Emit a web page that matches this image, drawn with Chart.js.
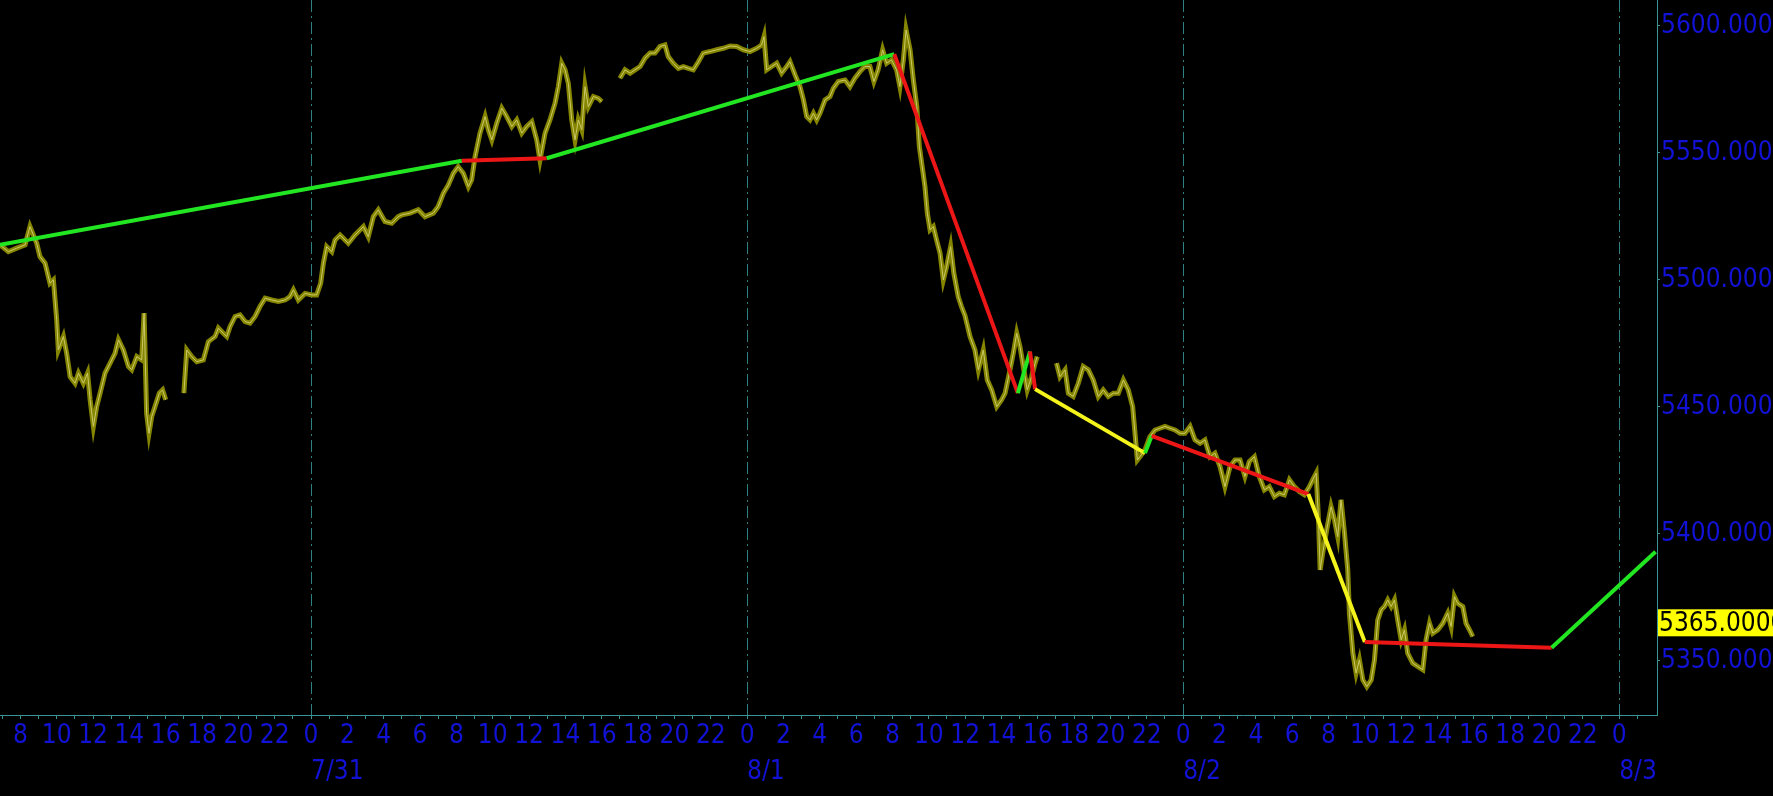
<!DOCTYPE html>
<html>
<head>
<meta charset="utf-8">
<script src="https://cdn.jsdelivr.net/npm/chart.js@4.4.1/dist/chart.umd.min.js"></script>
<style>
  html, body { margin: 0; padding: 0; background: #000; }
  canvas { display: block; }
</style>
</head>
<body>
<canvas id="myChart" width="1773" height="796"></canvas>
<script>
// hours counted from 7/30 0:00, null = session break
const priceHours = [
  6.88, 7.34, 7.80, 8.26, 8.53, 8.90, 9.08, 9.36, 9.63, 9.82, 10.00, 10.09, 10.37, 10.55, 10.74,
  11.01, 11.20, 11.47, 11.70, 11.84, 12.02, 12.20, 12.39, 12.66, 12.94, 13.21, 13.40, 13.67, 13.95,
  14.13, 14.41, 14.68, 14.81, 14.95, 15.08, 15.23, 15.41, 15.65, 15.83, 16.00, 16.50,
  17.00, 17.16, 17.43, 17.71, 18.07, 18.35, 18.72, 18.90, 19.17, 19.36, 19.54, 19.82, 20.09, 20.37,
  20.64, 20.92, 21.19, 21.47, 21.84, 22.20, 22.57, 22.84, 23.03, 23.30, 23.67, 24.04, 24.31, 24.53,
  24.68, 24.86, 25.14, 25.32, 25.60, 26.05, 26.42, 26.88, 27.15, 27.43, 27.70, 28.07, 28.44, 28.80,
  29.00, 29.45, 29.90, 30.27, 30.73, 31.00, 31.28, 31.56, 31.83, 32.10, 32.38, 32.66, 32.84, 33.03,
  33.30, 33.58, 33.76, 33.95, 34.22, 34.50, 34.77, 35.05, 35.32, 35.60, 35.87, 36.15, 36.42, 36.60,
  36.88, 37.15, 37.43, 37.61, 37.80, 37.98, 38.16, 38.35, 38.53, 38.71, 38.90, 39.08, 39.26, 39.54,
  39.81, 40.00, 40.50,
  41.00, 41.28, 41.56, 41.83, 42.11, 42.38, 42.66, 42.93, 43.21, 43.48, 43.66, 43.94, 44.22, 44.49,
  44.77, 45.04, 45.32, 45.59, 45.96, 46.33, 46.69, 47.06, 47.43, 47.79, 48.16, 48.53, 48.80, 48.93,
  49.08, 49.35, 49.63, 49.90, 50.18, 50.36, 50.64, 50.91, 51.10, 51.28, 51.46, 51.65, 51.83, 52.01,
  52.29, 52.56, 52.75, 53.02, 53.39, 53.66, 53.93, 54.21, 54.48, 54.76, 54.98, 55.21, 55.46, 55.68,
  55.95, 56.23, 56.41, 56.60, 56.75, 56.97, 57.15, 57.34, 57.48, 57.61, 57.79, 57.92, 58.07, 58.25,
  58.43, 58.62, 58.80, 58.98, 59.20, 59.38, 59.62, 59.80, 59.99, 60.27, 60.54, 60.73, 61.00, 61.22,
  61.46, 61.74, 62.01, 62.20, 62.47, 62.65, 62.84, 63.02, 63.20, 63.42, 63.66, 63.85, 63.97, 64.50,
  65.03, 65.22, 65.50, 65.68, 65.95, 66.23, 66.50, 66.78, 67.05, 67.33, 67.60, 67.88, 68.16, 68.43,
  68.71, 68.98, 69.22, 69.35, 69.48, 69.62, 69.90, 70.17, 70.45, 70.72, 71.00, 71.28, 71.55, 71.83,
  72.10, 72.38, 72.65, 72.93, 73.20, 73.48, 73.75, 74.03, 74.30, 74.58, 74.85, 75.13, 75.40, 75.64,
  75.92, 76.19, 76.47, 76.74, 77.02, 77.30, 77.57, 77.85, 78.12, 78.40, 78.67, 78.95, 79.13, 79.32,
  79.45, 79.54, 79.68, 79.90, 80.14, 80.33, 80.51, 80.69, 80.88, 81.06, 81.15, 81.34, 81.52, 81.70,
  81.89, 82.11, 82.35, 82.53, 82.71, 82.90, 83.08, 83.26, 83.45, 83.63, 83.81, 84.00, 84.18, 84.36,
  84.64, 84.91, 85.19, 85.37, 85.56, 85.74, 86.01, 86.29, 86.56, 86.75, 86.93, 87.11, 87.39, 87.57,
  87.76, 87.94
]
const priceValues = [
  5513.8, 5511.1, 5512.5, 5513.8, 5521.0, 5514.4, 5509.2, 5506.6, 5498.7, 5500.0, 5484.3, 5472.4, 5477.7, 5471.1, 5461.9,
  5459.3, 5463.3, 5459.3, 5463.3, 5452.8, 5442.3, 5450.1, 5455.4, 5463.3, 5467.2, 5471.1, 5476.4, 5472.4, 5465.9,
  5464.6, 5469.8, 5468.5, 5486.9, 5447.5, 5439.6, 5446.2, 5450.1, 5455.4, 5456.7, 5452.8, null,
  5455.4, 5472.4, 5469.8, 5467.8, 5468.5, 5475.7, 5477.7, 5481.0, 5479.0, 5477.7, 5481.6, 5485.6, 5486.2, 5483.6,
  5483.0, 5485.6, 5489.5, 5492.8, 5492.1, 5491.5, 5492.1, 5493.4, 5496.1, 5492.1, 5494.7, 5494.1, 5494.1, 5498.7,
  5506.6, 5513.1, 5511.1, 5515.7, 5517.7, 5514.4, 5517.7, 5521.0, 5517.0, 5524.9, 5527.6, 5523.0, 5522.3, 5524.9,
  5525.6, 5526.3, 5527.6, 5524.9, 5526.3, 5528.9, 5534.1, 5537.4, 5542.0, 5544.6, 5542.0, 5536.7, 5539.4, 5548.6,
  5557.8, 5564.3, 5559.1, 5555.1, 5561.7, 5567.6, 5564.3, 5560.4, 5563.0, 5557.8, 5560.4, 5562.3, 5555.1, 5547.2,
  5557.8, 5563.0, 5569.6, 5576.1, 5585.3, 5582.7, 5577.4, 5563.0, 5555.1, 5563.0, 5559.1, 5576.1, 5568.2, 5572.2,
  5571.5, 5570.2, null,
  5579.4, 5582.7, 5581.4, 5582.7, 5584.0, 5587.3, 5589.3, 5589.3, 5591.9, 5592.5, 5587.9, 5585.3, 5583.3, 5584.0,
  5583.3, 5582.7, 5585.9, 5589.3, 5589.9, 5590.6, 5591.2, 5592.1, 5591.9, 5590.6, 5589.9, 5591.2, 5592.5, 5595.8,
  5582.7, 5584.0, 5585.3, 5581.4, 5584.0, 5585.9, 5580.7, 5576.1, 5570.9, 5564.3, 5563.0, 5565.6, 5563.0, 5565.6,
  5570.9, 5572.2, 5575.5, 5578.1, 5578.7, 5576.1, 5579.4, 5582.0, 5584.0, 5584.0, 5578.1, 5582.7, 5590.6, 5585.3,
  5586.6, 5582.7, 5576.1, 5586.6, 5598.4, 5590.6, 5578.7, 5568.2, 5552.5, 5545.9, 5536.7, 5526.3, 5519.7, 5521.0,
  5515.7, 5510.5, 5500.0, 5505.2, 5513.1, 5502.6, 5493.4, 5489.5, 5486.0, 5477.7, 5472.4, 5464.6, 5472.4, 5460.6,
  5456.7, 5450.1, 5452.8, 5455.4, 5464.6, 5471.1, 5479.0, 5473.7, 5465.9, 5456.7, 5461.9, 5467.2, 5469.8, null,
  5467.2, 5461.9, 5464.6, 5455.4, 5454.1, 5459.3, 5465.9, 5464.6, 5460.6, 5454.1, 5456.7, 5454.1, 5455.4, 5455.4,
  5460.6, 5456.7, 5450.1, 5439.6, 5429.1, 5430.4, 5433.1, 5438.3, 5440.9, 5441.6, 5442.3, 5441.6, 5440.9, 5439.6,
  5439.6, 5442.3, 5437.0, 5435.7, 5437.0, 5430.4, 5431.8, 5426.5, 5418.6, 5426.5, 5429.1, 5429.1, 5422.6, 5428.5,
  5430.4, 5422.6, 5417.3, 5418.6, 5414.7, 5416.0, 5415.4, 5421.3, 5418.6, 5416.7, 5415.4, 5418.6, 5421.3, 5423.9,
  5405.5, 5385.8, 5392.4, 5401.6, 5410.7, 5405.5, 5398.9, 5413.4, 5400.3, 5385.8, 5368.8, 5353.0, 5345.2, 5350.4,
  5342.5, 5339.9, 5342.5, 5350.4, 5366.1, 5370.1, 5371.4, 5374.0, 5371.4, 5374.0, 5366.1, 5358.3, 5362.2, 5353.0,
  5349.1, 5347.8, 5346.5, 5358.3, 5364.8, 5360.9, 5362.2, 5364.8, 5368.8, 5363.5, 5375.3, 5372.7, 5371.4, 5364.8,
  5362.2, 5359.6
]

// zigzag trend line
const zzHours = [6.88, 32.3, 36.97, 56.1, 62.9, 63.57, 63.85, 69.9, 70.27, 78.89, 82.0, 92.28, 98.0]
const zzValues = [5513.8, 5546.9, 5547.9, 5588.9, 5455.4, 5471.8, 5457.0, 5431.8, 5438.6, 5415.7, 5357.4, 5355.2, 5393.0]
const zzColors = ['green', 'red', 'green', 'red', 'green', 'red', 'yellow', 'green', 'red', 'yellow', 'red', 'green']

const yTicks = [5350, 5400, 5450, 5500, 5550, 5600]
const dayHours = [24, 48, 72, 96]
const dayLabels = ['7/31', '8/1', '8/2', '8/3']
const lastPrice = 5365

const colorMap = { green: '#22e622', red: '#ec1616', yellow: '#f4f41c' }
const blue = '#1212d6'
const teal = '#3a9494'
const fontFamily = "'DejaVu Sans Condensed', 'DejaVu Sans', sans-serif"

const pricePts = priceHours.map((h, i) => ({ x: h, y: priceValues[i] }))
const zzPts = zzHours.map((h, i) => ({ x: h, y: zzValues[i] }))

const bgPlugin = {
  id: 'bg',
  beforeDraw(chart) {
    const ctx = chart.ctx
    ctx.save()
    ctx.fillStyle = '#000'
    ctx.fillRect(0, 0, chart.width, chart.height)
    ctx.restore()
  }
}

const extraLabels = {
  id: 'extraLabels',
  afterDraw(chart) {
    const ctx = chart.ctx
    const xs = chart.scales.x
    const ys = chart.scales.y
    ctx.save()
    ctx.font = '26px ' + fontFamily
    ctx.fillStyle = blue
    ctx.textAlign = 'left'
    ctx.textBaseline = 'middle'
    for (let i = 0; i < dayHours.length; i++) {
      ctx.fillText(dayLabels[i], xs.getPixelForValue(dayHours[i]), xs.top + 57)
    }
    // current price box
    const py = ys.getPixelForValue(lastPrice)
    ctx.fillStyle = '#ffff00'
    ctx.fillRect(chart.chartArea.right + 1, py - 13.5, chart.width - chart.chartArea.right, 27)
    ctx.fillStyle = '#000'
    ctx.fillText(lastPrice.toFixed(4), chart.chartArea.right + 2, py + 1)
    ctx.restore()
  }
}

const ctx = document.getElementById('myChart').getContext('2d')
const myChart = new Chart(ctx, {
  type: 'scatter',
  data: {
    datasets: [
      {
        label: 'zigzag',
        data: zzPts,
        showLine: true,
        borderWidth: 4,
        pointRadius: 0,
        borderColor: colorMap.green,
        segment: {
          borderColor: c => colorMap[zzColors[c.p0DataIndex]]
        },
        order: 0
      },
      {
        label: 'price hi',
        data: pricePts,
        showLine: true,
        spanGaps: false,
        borderWidth: 1,
        pointRadius: 0,
        borderColor: '#c9c96a',
        order: 1
      },
      {
        label: 'price',
        data: pricePts,
        showLine: true,
        spanGaps: false,
        borderWidth: 5,
        pointRadius: 0,
        borderColor: '#858500',
        order: 2
      }
    ]
  },
  options: {
    responsive: false,
    animation: false,
    devicePixelRatio: 1,
    layout: { padding: 0 },
    plugins: {
      legend: { display: false },
      tooltip: { enabled: false }
    },
    scales: {
      x: {
        type: 'linear',
        position: 'bottom',
        min: 6.88,
        max: 98.08,
        afterBuildTicks: scale => {
          const t = []
          for (let h = 7; h <= 97; h++) t.push({ value: h })
          scale.ticks = t
        },
        afterFit: scale => {
          scale.height = 81
          scale.paddingLeft = 0
          scale.paddingRight = 0
        },
        ticks: {
          autoSkip: false,
          maxRotation: 0,
          padding: 2,
          color: blue,
          font: { family: fontFamily, size: 26 },
          callback: v => (v % 2 === 0 ? String(v % 24) : '')
        },
        grid: {
          color: c => (c.tick && c.tick.value % 24 === 0 ? '#2f8080' : 'rgba(0,0,0,0)'),
          lineWidth: 1,
          tickColor: teal,
          tickLength: 4
        },
        border: { color: teal, width: 1, dash: [12, 4, 2, 4] }
      },
      y: {
        type: 'linear',
        position: 'right',
        min: 5328.7,
        max: 5610.2,
        afterBuildTicks: scale => {
          scale.ticks = yTicks.map(v => ({ value: v }))
        },
        afterFit: scale => {
          scale.width = 116
          scale.paddingTop = 0
          scale.paddingBottom = 0
        },
        ticks: {
          padding: 1,
          color: blue,
          font: { family: fontFamily, size: 26 },
          callback: v => v.toFixed(4)
        },
        grid: {
          drawOnChartArea: false,
          tickColor: teal,
          tickLength: 3
        },
        border: { color: teal, width: 1 }
      }
    }
  },
  plugins: [bgPlugin, extraLabels]
})
</script>
</body>
</html>
